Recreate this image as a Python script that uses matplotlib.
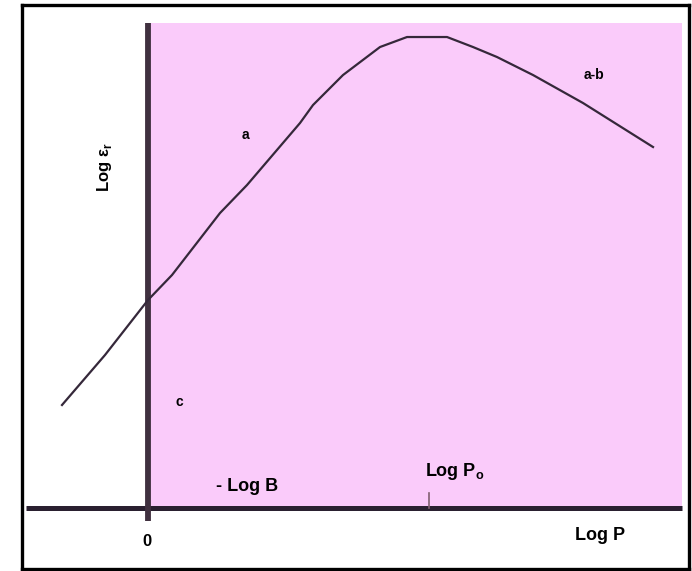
import matplotlib as mpl
import matplotlib.pyplot as plt
from matplotlib.patches import Rectangle

mpl.rcParams['font.family'] = ['Liberation Sans', 'DejaVu Sans']
mpl.rcParams['font.weight'] = 'bold'

# curve: log(er) against log(P), arbitrary units
log_p = [-8.6, -4.3, 0.0, 2.4, 7.2, 9.9, 15.2, 16.5, 19.5, 23.2, 25.9, 29.9, 32.5, 34.9, 38.5, 43.5, 50.5]
log_er = [10.3, 15.3, 20.8, 23.3, 29.5, 32.3, 38.5, 40.3, 43.3, 46.1, 47.1, 47.1, 46.1, 45.1, 43.3, 40.5, 36.1]

log_p0 = 28.1
region_right = 53.4
region_top = 48.5

fig = plt.figure(figsize=(6.92, 5.71), dpi=100)
ax = fig.add_axes([0.0318, 0.0035, 0.9639, 0.9877])
ax.set_xlim(-12.6, 54.1)
ax.set_ylim(-6.1, 50.3)

# pink region right of the y axis
ax.add_patch(Rectangle((0, 0), region_right, region_top, facecolor='#facbfa', edgecolor='none', zorder=0))

# axes lines
ax.plot([-12.2, region_right], [0, 0], color='#2a2030', linewidth=3.6, solid_capstyle='butt', zorder=2)
ax.plot([0, 0], [-1.3, region_top], color='#40303f', linewidth=4.2, solid_capstyle='butt', zorder=2)
ax.plot([log_p0, log_p0], [0, 1.5], color='#806070', linewidth=1.2, zorder=2)

# the curve
ax.plot(log_p, log_er, color='#35283a', linewidth=1.6, solid_joinstyle='round', zorder=3)

# labels
ax.text(-4.4, 34.1, r'Log ε$_\mathregular{r}$', rotation=90, ha='center', va='center', fontsize=12)
ax.text(9.7, 37.3, 'a', ha='center', va='center', fontsize=10)
ax.text(44.6, 43.3, 'a-b', ha='center', va='center', fontsize=10)
ax.text(3.1, 10.6, 'c', ha='center', va='center', fontsize=10)
ax.text(9.9, 2.2, '- Log B', ha='center', va='center', fontsize=13)
ax.text(30.7, 3.7, r'Log P$_\mathregular{o}$', ha='center', va='center', fontsize=13)
ax.text(-0.1, -3.3, '0', ha='center', va='center', fontsize=12)
ax.text(45.2, -2.7, 'Log P', ha='center', va='center', fontsize=13)

ax.set_xticks([])
ax.set_yticks([])
for s in ax.spines.values():
    s.set_linewidth(2.4)
    s.set_color('black')

fig.savefig('out.png', dpi=100)
